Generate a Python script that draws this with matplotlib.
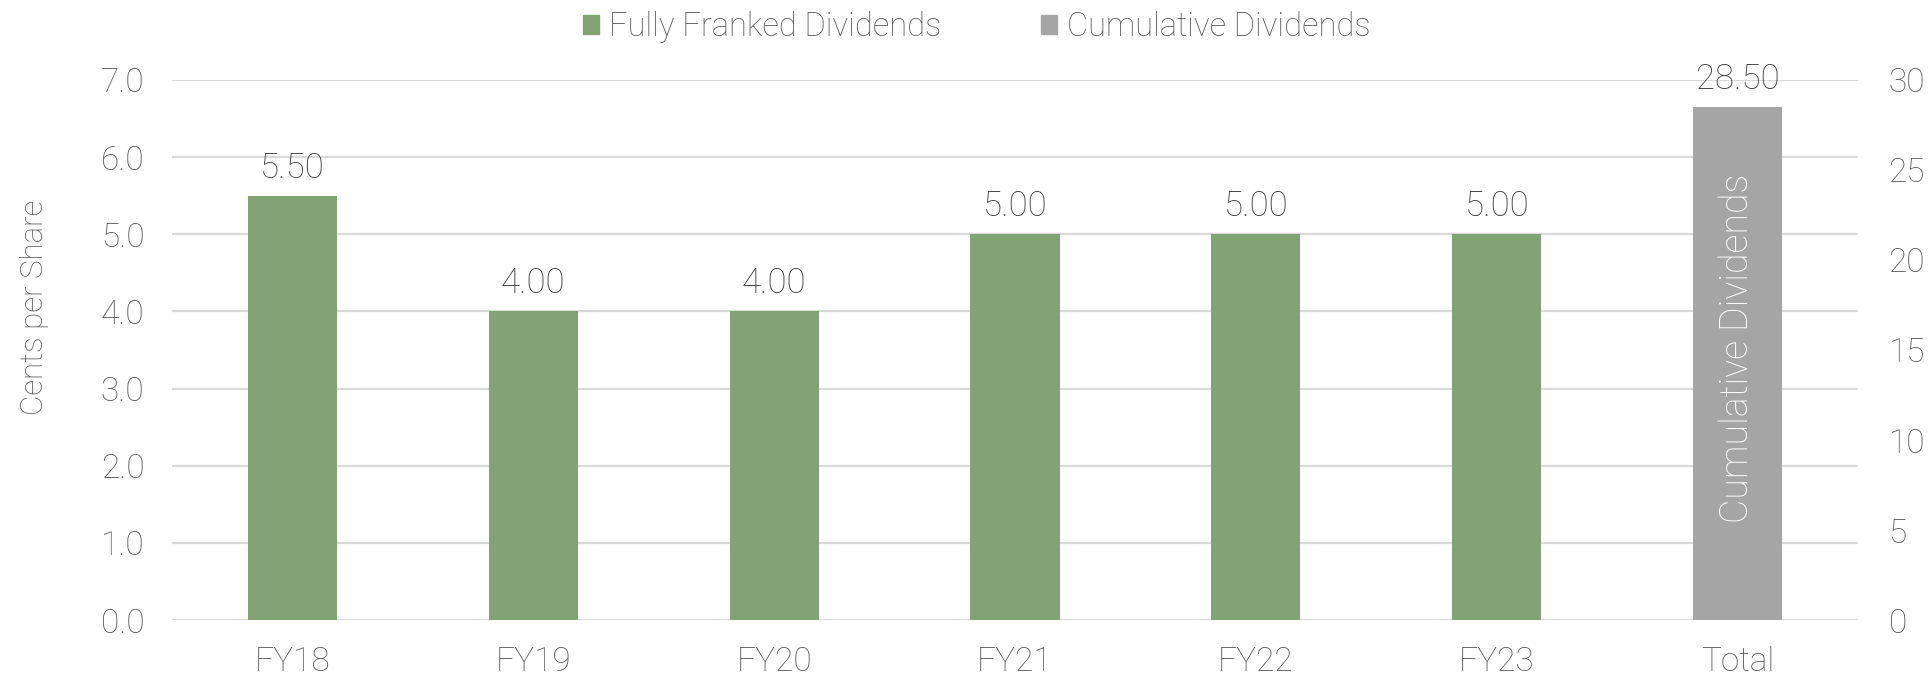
import matplotlib
matplotlib.use("Agg")
import matplotlib.pyplot as plt
from matplotlib.patches import Patch

# ── Data ──────────────────────────────────────────────────────────────────────
years = ["FY18", "FY19", "FY20", "FY21", "FY22", "FY23"]
dividends = [5.50, 4.00, 4.00, 5.00, 5.00, 5.00]
total_label = "Total"
cumulative = 28.50

left_ticks = [0, 1, 2, 3, 4, 5, 6, 7]
right_ticks = [0, 5, 10, 15, 20, 25, 30]

GREEN = "#82a474"
GREY = "#a5a5a5"
TXT = "#595959"
LBL = "#404040"
GRID = "#d9d9d9"
FS = 24

plt.rcParams["font.family"] = ["Roboto", "DejaVu Sans"]
plt.rcParams["font.weight"] = "light"
plt.rcParams["axes.labelweight"] = "light"

fig = plt.figure(figsize=(19.29, 6.76), dpi=100)
ax = fig.add_axes([0.0892, 0.0828, 0.8740, 0.7989])
ax2 = ax.twinx()

cats = years + [total_label]
xpos = list(range(len(cats)))
bw = 0.37

ax.bar(xpos[:-1], dividends, width=bw, color=GREEN, zorder=3)
ax2.bar(xpos[-1], cumulative, width=bw, color=GREY, zorder=3)

ax.set_xlim(-0.5, len(cats) - 0.5)
ax.set_ylim(0, 7)
ax2.set_ylim(0, 30)

ax.set_yticks(left_ticks)
ax.set_yticklabels([f"{v:.1f}" for v in left_ticks])
ax2.set_yticks(right_ticks)
ax2.set_yticklabels([str(v) for v in right_ticks])
ax.set_xticks(xpos)
ax.set_xticklabels(cats)

ax.grid(axis="y", color=GRID, lw=1.6, zorder=0)
ax.set_axisbelow(True)
for a in (ax, ax2):
    for s in a.spines.values():
        s.set_visible(False)
    a.tick_params(length=0, labelsize=FS, labelcolor=TXT)
ax.tick_params(axis="y", pad=20)
ax.tick_params(axis="x", pad=19)
ax2.tick_params(axis="y", pad=22)

ax.set_ylabel("Cents per Share", fontsize=22.5, color=TXT)
ax.yaxis.set_label_coords(-0.073, 0.578)

# value labels
for x, v in zip(xpos[:-1], dividends):
    ax.annotate(f"{v:.2f}", (x, v), xytext=(0, 8), textcoords="offset points",
                ha="center", va="bottom", fontsize=25, color=LBL)
ax2.annotate(f"{cumulative:.2f}", (xpos[-1], cumulative), xytext=(0, 8),
             textcoords="offset points", ha="center", va="bottom",
             fontsize=25, color=LBL)
ax2.annotate("Cumulative Dividends", (xpos[-1], cumulative / 2), xytext=(0, 11),
             textcoords="offset points", rotation=90, ha="center", va="center",
             fontsize=27, color="white", zorder=4)

handles = [Patch(color=GREEN, label="Fully Franked Dividends"),
           Patch(color=GREY, label="Cumulative Dividends")]
leg = fig.legend(handles=handles, loc="upper center", bbox_to_anchor=(0.5062, 1.027),
                 ncol=2, frameon=False, fontsize=23.5, handlelength=0.5,
                 handleheight=0.5, handletextpad=0.3, columnspacing=3.05)
for t in leg.get_texts():
    t.set_color(TXT)

fig.savefig("out.png", dpi=100, facecolor="white")
